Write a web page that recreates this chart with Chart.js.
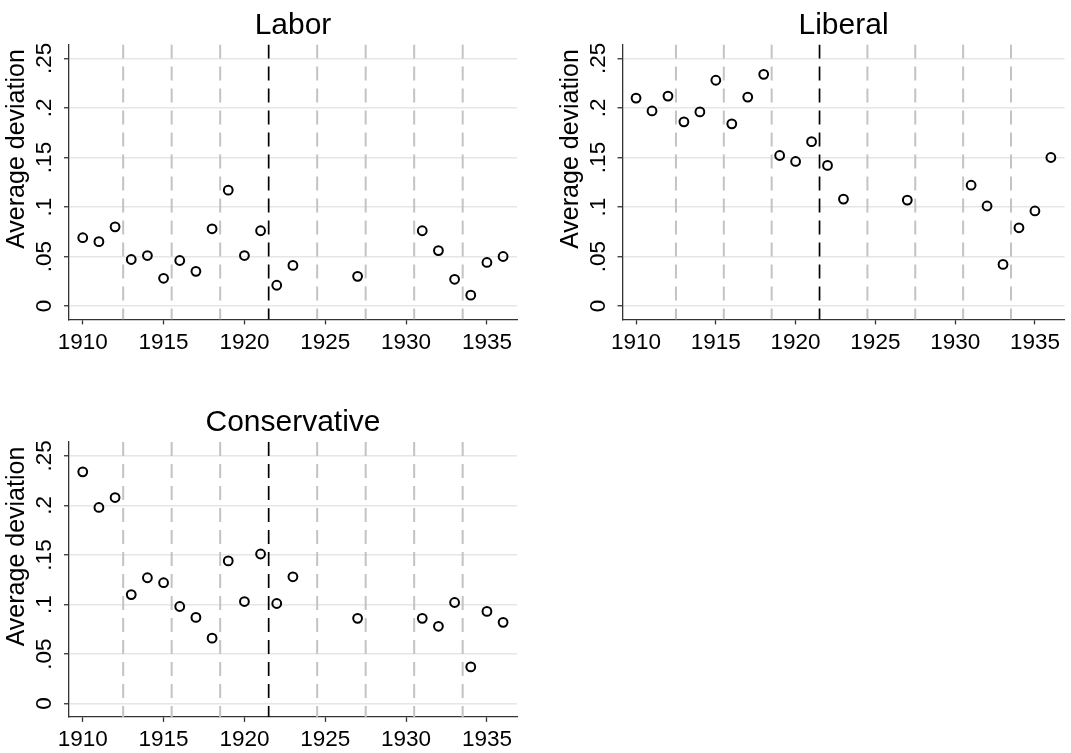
<!DOCTYPE html>
<html>
<head>
<meta charset="utf-8">
<script src="https://cdn.jsdelivr.net/npm/chart.js@4.4.1/dist/chart.umd.min.js"></script>
<style>
html,body{margin:0;padding:0;background:#fff;width:1071px;height:753px;overflow:hidden}
.p{position:absolute}
canvas{display:block}
</style>
</head>
<body>
<div class="p" style="left:0;top:0"><canvas id="c1" width="535" height="370"></canvas></div>
<div class="p" style="left:553px;top:0"><canvas id="c2" width="518" height="370"></canvas></div>
<div class="p" style="left:0;top:397px"><canvas id="c3" width="535" height="356"></canvas></div>
<script>
// ---------- data ----------
const years = [1910,1911,1912,1913,1914,1915,1916,1917,1918,1919,1920,1921,1922,1923,1927,1931,1932,1933,1934,1935,1936];
const laborValues = [0.069,0.065,0.080,0.047,0.051,0.028,0.046,0.035,0.078,0.117,0.051,0.076,0.021,0.041,0.030,0.076,0.056,0.027,0.011,0.044,0.050];
const liberalValues = [0.210,0.197,0.212,0.186,0.196,0.228,0.184,0.211,0.234,0.152,0.146,0.166,0.142,0.108,0.107,0.122,0.101,0.042,0.079,0.096,0.150];
const conservativeValues = [0.234,0.198,0.208,0.110,0.127,0.122,0.098,0.087,0.066,0.144,0.103,0.151,0.101,0.128,0.086,0.086,0.078,0.102,0.037,0.093,0.082];
const panelTitles = ['Labor','Liberal','Conservative'];
const grayRefYears = [1912.5,1915.5,1918.5,1924.5,1927.5,1930.5,1933.5];
const blackRefYears = [1921.5];
const xTickValues = [1910,1915,1920,1925,1930,1935];
const yTickValues = [0,0.05,0.1,0.15,0.2,0.25];
const yTickLabels = ['0','.05','.1','.15','.2','.25'];
const yAxisTitle = 'Average deviation';
const xRange = [1909.15,1936.86];
const yRange = [-0.0135,0.264];

// ---------- style ----------
const FONT = '"Liberation Sans", Arial, Helvetica, sans-serif';
const TITLE_SIZE = 30;
const TICK_SIZE = 22.5;
const AXIS_TITLE_SIZE = 25;

const panelText = {
  id: 'panelText',
  afterDraw(chart, args, opts) {
    const {ctx, chartArea, scales} = chart;
    const y = scales.y;
    ctx.save();
    ctx.fillStyle = '#000';
    ctx.textBaseline = 'alphabetic';
    // title
    ctx.font = TITLE_SIZE + 'px ' + FONT;
    ctx.textAlign = 'center';
    ctx.fillText(opts.title, (chartArea.left + chartArea.right) / 2, chartArea.top - 11);
    // rotated y tick labels
    ctx.font = TICK_SIZE + 'px ' + FONT;
    yTickValues.forEach((v, i) => {
      const py = y.getPixelForValue(v);
      ctx.save();
      ctx.translate(chartArea.left - 18, py);
      ctx.rotate(-Math.PI / 2);
      ctx.textAlign = 'center';
      ctx.fillText(yTickLabels[i], 0, 0);
      ctx.restore();
    });
    // y axis title
    ctx.font = AXIS_TITLE_SIZE + 'px ' + FONT;
    ctx.save();
    ctx.translate(chartArea.left - 45, chartArea.top + 0.38 * (chartArea.bottom - chartArea.top));
    ctx.rotate(-Math.PI / 2);
    ctx.textAlign = 'center';
    ctx.fillText(yAxisTitle, 0, 0);
    ctx.restore();
    ctx.restore();
  }
};

function makePanel(id, title, values, box) {
  const canvas = document.getElementById(id);
  const W = canvas.width, H = canvas.height;
  const datasets = [];
  datasets.push({
    type: 'scatter',
    data: years.map((yr, i) => ({x: yr, y: values[i]})),
    pointRadius: 4.4,
    pointBorderWidth: 2,
    pointBorderColor: '#000',
    pointBackgroundColor: 'rgba(0,0,0,0)',
    borderColor: '#000',
    backgroundColor: 'rgba(0,0,0,0)',
    showLine: false,
    order: 0
  });
  blackRefYears.forEach(v => datasets.push({
    type: 'line',
    data: [{x: v, y: yRange[1]}, {x: v, y: yRange[0]}],
    borderColor: '#000', borderWidth: 1.7, borderDash: [14, 8],
    pointRadius: 0, showLine: true, fill: false, order: 1
  }));
  grayRefYears.forEach(v => datasets.push({
    type: 'line',
    data: [{x: v, y: yRange[1]}, {x: v, y: yRange[0]}],
    borderColor: '#c3c3c3', borderWidth: 2, borderDash: [14, 8],
    pointRadius: 0, showLine: true, fill: false, order: 2
  }));
  new Chart(canvas, {
    type: 'scatter',
    data: {datasets},
    options: {
      responsive: false,
      animation: false,
      events: [],
      layout: {padding: {left: 0, right: W - box.right, top: box.top, bottom: 0}},
      plugins: {legend: {display: false}, tooltip: {enabled: false}, panelText: {title}},
      scales: {
        x: {
          type: 'linear', min: xRange[0], max: xRange[1],
          afterBuildTicks: s => { s.ticks = xTickValues.map(v => ({value: v})); },
          afterFit: s => { s.height = H - box.bottom; },
          grid: {display: true, drawOnChartArea: false, drawTicks: true, tickLength: 5, tickColor: '#333', tickWidth: 1.3},
          border: {display: true, color: '#333', width: 1.3},
          ticks: {color: '#000', font: {family: FONT, size: TICK_SIZE}, padding: 4.5, maxRotation: 0, minRotation: 0, autoSkip: false, callback: v => String(v)}
        },
        y: {
          type: 'linear', min: yRange[0], max: yRange[1],
          afterBuildTicks: s => { s.ticks = yTickValues.map(v => ({value: v})); },
          afterFit: s => { s.width = box.left; },
          grid: {color: '#e6e6e6', lineWidth: 1.5, drawTicks: true, tickLength: 5, tickColor: '#333', tickWidth: 1.3},
          border: {display: true, color: '#333', width: 1.3},
          ticks: {display: false}
        }
      }
    },
    plugins: [panelText]
  });
}

makePanel('c1', panelTitles[0], laborValues, {left: 69, right: 517, top: 44.6, bottom: 319.4});
makePanel('c2', panelTitles[1], liberalValues, {left: 69.5, right: 517.5, top: 44.6, bottom: 319.4});
makePanel('c3', panelTitles[2], conservativeValues, {left: 69, right: 517, top: 45.1, bottom: 319.9});
</script>
</body>
</html>
